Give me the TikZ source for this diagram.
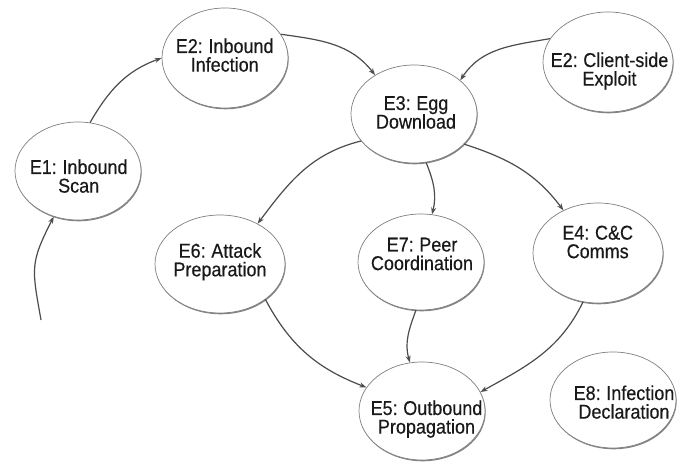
\documentclass[tikz,border=0pt]{standalone}
\usepackage{fontspec}
\setmainfont{Liberation Sans}[FakeStretch=0.9, FakeBold=0.35]
\usetikzlibrary{shapes.geometric,arrows.meta,shadows}
% two centred lines whose baseline is the baseline of the first line
\newcommand\twolines[2]{\vtop{\lineskiplimit-30pt\relax
  \halign{\hfil\spaceskip 4pt\relax##\hfil\cr#1\cr#2\cr}}}
\tikzset{
  ev/.style={ellipse, draw=black!50, line width=0.7pt, fill=white, inner sep=0pt,
    drop shadow={shadow xshift=0.7pt, shadow yshift=-1.3pt, fill=black!60, opacity=0.8}},
  lbl/.style={anchor=base, inner sep=0pt, text=black!90,
    font=\fontsize{20}{18.6}\selectfont},
  arr/.style={draw=black!70, line width=1.2pt, -{Stealth[length=7pt,width=5pt]}},
}
\begin{document}
\begin{tikzpicture}[x=1pt,y=1pt]
\fill[white] (0,0) rectangle (678,462);
\useasboundingbox (0,0) rectangle (678,462);

% event ellipses
\node[ev, minimum width=126, minimum height=98]  (e1)  at (78,291)  {};
\node[ev, minimum width=126, minimum height=100] (e2i) at (225,404) {};
\node[ev, minimum width=130, minimum height=100] (e2c) at (608,400) {};
\node[ev, minimum width=126, minimum height=98]  (e3)  at (414,348) {};
\node[ev, minimum width=130, minimum height=98]  (e6)  at (220,198) {};
\node[ev, minimum width=126, minimum height=96]  (e7)  at (421,200) {};
\node[ev, minimum width=130, minimum height=100] (e4)  at (598,209) {};
\node[ev, minimum width=126, minimum height=98]  (e5)  at (422,51)  {};
\node[ev, minimum width=126, minimum height=96]  (e8)  at (613,62)  {};

% labels
\node[lbl] (t1)  at (78.7,288)  {\twolines{E1: Inbound}{Scan}};
\node[lbl] (t2i) at (224.7,409) {\twolines{E2: Inbound}{Infection}};
\node[lbl] (t2c) at (609.5,395) {\twolines{E2: Client-side}{Exploit}};
\node[lbl] (t3)  at (416,352)   {\twolines{E3: Egg}{Download}};
\node[lbl] (t6)  at (220,204.3) {\twolines{E6: Attack}{Preparation}};
\node[lbl] (t7)  at (422,210.5) {\twolines{E7: Peer}{Coordination}};
\node[lbl] (t4)  at (597.7,222.4) {\twolines{E4: C\&C}{Comms}};
\node[lbl] (t5)  at (426.5,47)  {\twolines{E5: Outbound}{Propagation}};
\node[lbl] (t8)  at (624,62)    {\twolines{E8: Infection}{Declaration}};

% transitions
\coordinate (s) at (41,142);
\draw[arr] (s) to[out=100, in=243, looseness=1.3] (e1.242);
\draw[arr] (e1.76) to[out=60, in=200] (e2i.180);
\draw[arr] (e2i.23) to[out=-8, in=128] (e3.135);
\draw[arr] (e2c.158) to[out=190, in=57] (e3.36);
\draw[arr] (e3.207) to[out=194, in=53] (e6.47);
\draw[arr] (e3.284) to[out=-68, in=76] (e7.77);
\draw[arr] (e3.329) to[out=-18, in=127] (e4.129);
\draw[arr] (e6.322) to[out=-62, in=159] (e5.157);
\draw[arr] (e7.264) to[out=-110, in=106] (e5.104);
\draw[arr] (e4.253) to[out=244, in=29] (e5.18);
\end{tikzpicture}
\end{document}
